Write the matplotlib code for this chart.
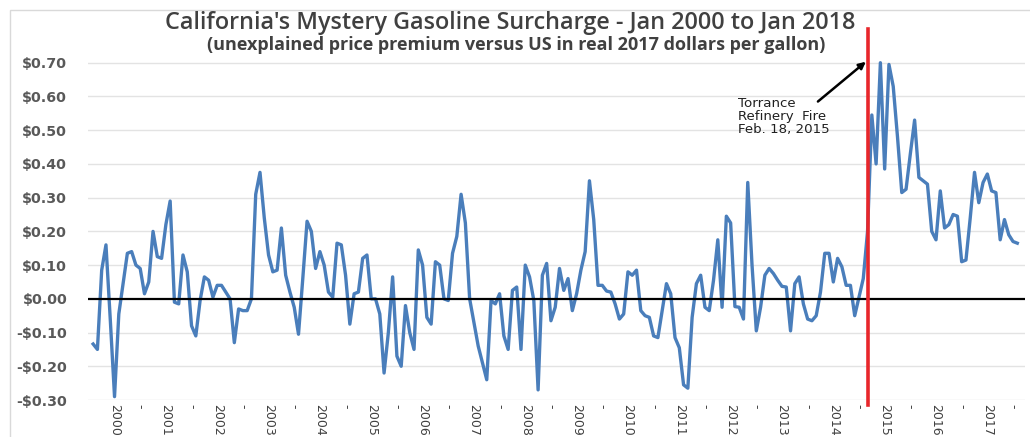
import matplotlib
matplotlib.use("Agg")
import matplotlib.pyplot as plt
import numpy as np
import pandas as pd
from matplotlib.patches import Rectangle

# 월별 데이터 (Jan 2000 ~ Jan 2018), 그림에서 읽은 값
surcharge_2000_2002 = [
    -0.134, -0.15, 0.085, 0.16, -0.06, -0.29, -0.045, 0.045, 0.135, 0.14, 0.10, 0.09,
    0.015, 0.05, 0.20, 0.125, 0.12, 0.22, 0.29, -0.01, -0.015, 0.13, 0.08, -0.08,
    -0.11, -0.005, 0.065, 0.055, 0.005, 0.04, 0.04, 0.02, 0.0, -0.13, -0.03, -0.035,
]
surcharge_2003_2005 = [
    -0.035, 0.0, 0.31, 0.375, 0.24, 0.13, 0.08, 0.085, 0.21, 0.07, 0.02, -0.025,
    -0.105, 0.06, 0.23, 0.20, 0.09, 0.14, 0.10, 0.02, 0.005, 0.165, 0.16, 0.07,
    -0.075, 0.015, 0.02, 0.12, 0.13, 0.0, 0.0, -0.045, -0.22, -0.10, 0.065, -0.17,
]
surcharge_2006_2008 = [
    -0.20, -0.02, -0.10, -0.15, 0.145, 0.10, -0.055, -0.075, 0.11, 0.10, 0.0, -0.005,
    0.135, 0.185, 0.31, 0.225, 0.0, -0.07, -0.14, -0.19, -0.24, -0.005, -0.015, 0.015,
    -0.11, -0.15, 0.025, 0.035, -0.15, 0.10, 0.065, -0.005, -0.27, 0.07, 0.105, -0.065,
]
surcharge_2009_2011 = [
    -0.025, 0.09, 0.025, 0.06, -0.035, 0.015, 0.085, 0.14, 0.35, 0.235, 0.04, 0.04,
    0.023, 0.02, -0.015, -0.06, -0.045, 0.08, 0.07, 0.085, -0.035, -0.05, -0.055, -0.11,
    -0.115, -0.035, 0.045, 0.015, -0.115, -0.145, -0.255, -0.265, -0.055, 0.045, 0.07, -0.025,
]
surcharge_2012_2014 = [
    -0.035, 0.055, 0.175, -0.025, 0.245, 0.225, -0.023, -0.025, -0.06, 0.345, 0.10, -0.095,
    -0.025, 0.07, 0.09, 0.075, 0.055, 0.037, 0.035, -0.095, 0.045, 0.065, -0.015, -0.06,
    -0.065, -0.05, 0.02, 0.135, 0.135, 0.05, 0.12, 0.095, 0.04, 0.04, -0.05, 0.005,
]
surcharge_2015_2018 = [
    0.06, 0.20, 0.545, 0.40, 0.70, 0.385, 0.695, 0.63, 0.48, 0.315, 0.325, 0.43,
    0.53, 0.36, 0.35, 0.34, 0.20, 0.175, 0.32, 0.21, 0.22, 0.25, 0.245, 0.11,
    0.115, 0.24, 0.375, 0.285, 0.345, 0.37, 0.32, 0.315, 0.175, 0.235, 0.19, 0.17,
    0.165,
]

surcharge = np.array(surcharge_2000_2002 + surcharge_2003_2005 + surcharge_2006_2008
                     + surcharge_2009_2011 + surcharge_2012_2014 + surcharge_2015_2018)
months = pd.date_range("2000-01-01", "2018-01-01", freq="MS")

year_labels = [str(y) for y in range(2000, 2018)]
y_ticks = [-0.3, -0.2, -0.1, 0.0, 0.1, 0.2, 0.3, 0.4, 0.5, 0.6, 0.7]

fire_date = pd.Timestamp("2015-02-01")
fire_text = "Torrance\nRefinery  Fire\nFeb. 18, 2015"

title = "California's Mystery Gasoline Surcharge - Jan 2000 to Jan 2018"
subtitle = "(unexplained price premium versus US in real 2017 dollars per gallon)"

x = np.arange(len(months))
fire_idx = int(np.where(months == fire_date)[0][0])


def money(v):
    return f"-${abs(v):.2f}" if v < 0 else f"${v:.2f}"


fig = plt.figure(figsize=(10.3, 4.37), dpi=100)
fig.patches.append(Rectangle((10 / 1030, -0.02), 1.05, 1 - 10 / 437 + 0.02,
                             transform=fig.transFigure, fill=False,
                             edgecolor="#d9d9d9", linewidth=1))

ax = fig.add_axes([88 / 1030, 1 - 400 / 437, (1025 - 88) / 1030, (400 - 56) / 437])

# 격자선
for v in y_ticks:
    if v != 0:
        ax.axhline(v, color="#e3e3e3", linewidth=1, zorder=0)
ax.axhline(0, color="black", linewidth=1.6, zorder=3)

ax.plot(x, surcharge, color="#4a7ebb", linewidth=2.4, zorder=2)

# 화재 시점 빨간 선
ax.plot([fire_idx, fire_idx], [-0.315, 0.80], color="#e8262b", linewidth=2.6,
        zorder=4, clip_on=False)

ax.text(150.7, 0.54, fire_text, fontsize=9.6, color="#202020", va="center",
        ha="left", linespacing=1.0)
ax.annotate("", xy=(fire_idx - 0.4, 0.703), xytext=(169.4, 0.585),
            arrowprops=dict(arrowstyle="-|>", color="black", lw=1.8,
                            shrinkA=0, shrinkB=0, mutation_scale=10))

ax.set_xlim(-1.2, 217.8)
ax.set_ylim(-0.30, 0.72)

ax.set_yticks(y_ticks)
ax.set_yticklabels([money(v) for v in y_ticks], fontsize=10.3, fontweight="bold",
                   color="#595959")

tick_pos = []
tick_lab = []
for i, lab in enumerate(year_labels):
    tick_pos += [5 + 12 * i, 11 + 12 * i]
    tick_lab += [lab, "-"]
ax.set_xticks(tick_pos)
ax.set_xticklabels(tick_lab, rotation=270, fontsize=9, color="#404040")
ax.tick_params(axis="both", length=0)
ax.tick_params(axis="y", pad=15)
ax.tick_params(axis="x", pad=3)

for s in ax.spines.values():
    s.set_visible(False)

fig.text(0.495, 1 - 23 / 437, title, ha="center", va="center", fontsize=16.8,
         fontweight="semibold", color="#404040", family="Open Sans")
fig.text(0.501, 1 - 45 / 437, subtitle, ha="center", va="center", fontsize=13,
         fontweight="bold", color="#404040", family="Open Sans")

fig.savefig("out.png", dpi=100)
